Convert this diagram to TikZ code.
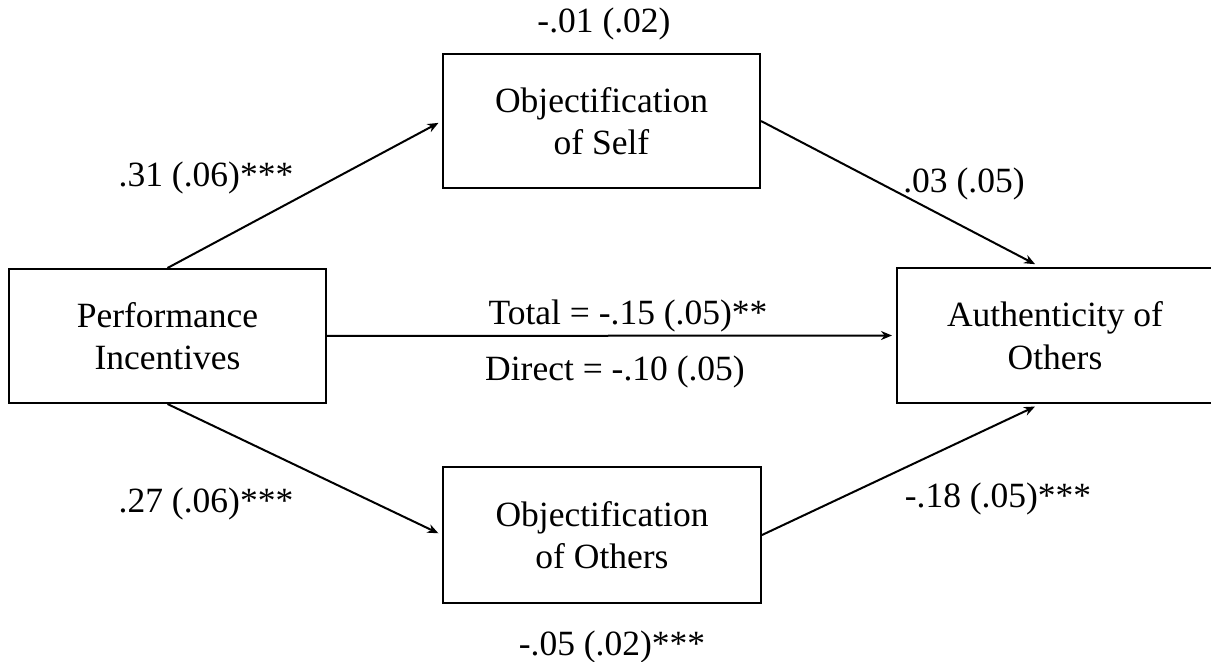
\documentclass[tikz,border=0pt]{standalone}
\usepackage{fontspec}
\setmainfont{Liberation Serif}
\usetikzlibrary{arrows.meta}
\tikzset{
  varbox/.style={draw, line width=1pt, minimum width=158.5pt, minimum height=67pt, align=center, inner sep=0pt},
  coef/.style={anchor=base, inner sep=0pt},
}
\begin{document}
\begin{tikzpicture}[>={Stealth[length=5.5pt,width=4.5pt]}, x=0.5pt, y=-0.5pt, line width=1pt, font=\fontsize{17.75pt}{21.25pt}\selectfont]
\useasboundingbox (0,0) rectangle (1211,662);
% variables
\node[varbox] (pi) at (167.5,336) {Performance\\Incentives};
\node[varbox] (os) at (601.5,121) {Objectification\\of Self};
\node[varbox, minimum width=159pt, minimum height=68pt] (oo) at (602,535) {Objectification\\of Others};
\node[varbox, minimum width=158pt, minimum height=67.5pt] (ao) at (1055,335.5) {Authenticity of\\Others};
% paths
\draw[->, shorten >=2pt](pi.north)--(os.west);
\draw[->, shorten >=3pt](os.east)--(ao.102);
\draw[->, shorten >=2pt](pi.east)--(ao.west);
\draw[->, shorten >=2pt](pi.south)--(oo.west);
\draw[->, shorten >=3pt](oo.east)--(ao.258);
% coefficients
\node[coef] (a1) at (604,33) {-.01 (.02)};
\node[coef] (a2) at (206,187) {.31 (.06)***};
\node[coef] (b1) at (964,193) {.03 (.05)};
\node[coef] (tot) at (628,325) {Total = -.15 (.05)**};
\node[coef] (dir) at (615,381) {Direct = -.10 (.05)};
\node[coef] (a3) at (206,513) {.27 (.06)***};
\node[coef] (b2) at (998,508) {-.18 (.05)***};
\node[coef] (a4) at (612,655) {-.05 (.02)***};
\end{tikzpicture}
\end{document}
